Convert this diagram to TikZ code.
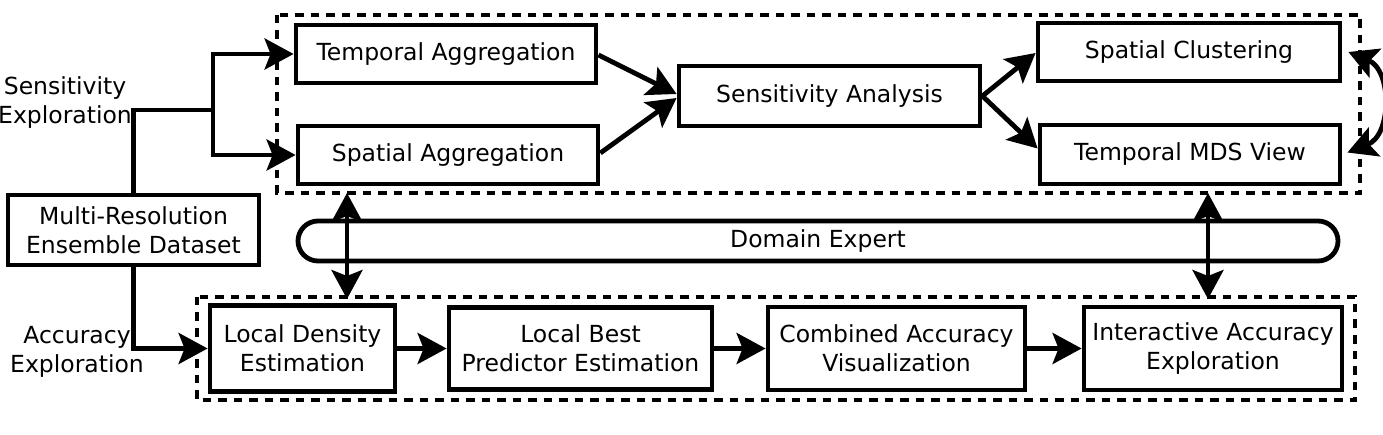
\documentclass[tikz,border=0pt]{standalone}
\usepackage{fontspec}
\setmainfont{DejaVu Sans}
\usetikzlibrary{arrows.meta,calc}
\begin{document}
\begin{tikzpicture}[x=1pt,y=-1pt,
  every node/.style={font=\fontsize{23.5}{29}\selectfont, align=center},
  blk/.style={draw, line width=4.8pt, inner sep=0pt},
  grp/.style={draw, line width=4.8pt, dash pattern=on 8.5pt off 7pt},
  arr/.style={line width=4.8pt, -{Stealth[length=29pt,width=31pt,inset=6pt]}},
  dbl/.style={line width=4.8pt, {Stealth[length=29pt,width=31pt,inset=6pt]}-{Stealth[length=29pt,width=31pt,inset=6pt]}},
  lbl/.style={inner sep=0pt}
]
\useasboundingbox (0,0) rectangle (1383,435);

% group frames
\draw[grp] (277,15) rectangle (1360,193);
\draw[grp] (197,297) rectangle (1355,400);

% top row
\node[blk, minimum width=300pt, minimum height=58pt] (ta) at (446,54) {Temporal Aggregation};
\node[blk, minimum width=300pt, minimum height=58pt] (spa) at (448,155) {Spatial Aggregation};
\node[blk, minimum width=301pt, minimum height=60pt] (sa) at (829.5,96) {Sensitivity Analysis};
\node[blk, minimum width=302pt, minimum height=58pt] (sc) at (1189,52) {Spatial Clustering};
\node[blk, minimum width=300pt, minimum height=59pt] (tm) at (1190,154.5) {Temporal MDS View};

% dataset
\node[blk, minimum width=251pt, minimum height=70pt] (mr) at (133.5,230) {Multi-Resolution\\Ensemble Dataset};

% domain expert
\node[draw, line width=4.8pt, rounded corners=20pt, minimum width=1040pt, minimum height=40pt, inner sep=0pt] (de) at (818,241) {Domain Expert};

% bottom row
\node[blk, minimum width=185pt, minimum height=86pt] (ld) at (302.5,348.5) {Local Density\\Estimation};
\node[blk, minimum width=263pt, minimum height=82pt] (lb) at (580.5,348.5) {Local Best\\Predictor Estimation};
\node[blk, minimum width=257pt, minimum height=83pt] (ca) at (896.5,348.5) {Combined Accuracy\\Visualization};
\node[blk, minimum width=258pt, minimum height=83pt] (ia) at (1213,348.5) {Interactive Accuracy\\Exploration};

% side labels
\node[lbl] (se) at (65,103) {Sensitivity\\Exploration};
\node[lbl] (ae) at (77,352) {Accuracy\\Exploration};

% connectors
\coordinate (j) at (213,110);
\draw[line width=4.8pt] (mr.north) |- (j);
\draw[arr] (j) |- (ta.west);
\draw[arr] (j) |- (spa.west);
\draw[arr] (mr.south) |- (ld.west);

\draw[arr] ($(ta.east)+(0,1)$) -- ($(sa.west)+(0,-2)$);
\draw[arr] ($(spa.east)+(0,-2)$) -- ($(sa.west)+(0,2)$);
\draw[arr] (sa.east) -- ($(sc.west)+(0,1)$);
\draw[arr] (sa.east) -- ($(tm.west)+(0,-6)$);

\draw[dbl] ($(sc.east)+(6,0)$) .. controls (1392,70) and (1392,135) .. ($(tm.east)+(5,-2)$);

\draw[arr] (ld.east) -- (lb.west);
\draw[arr] (lb.east) -- (ca.west);
\draw[arr] (ca.east) -- (ia.west);

\coordinate (u1) at (347,193);
\coordinate (d1) at (347,299);
\coordinate (u2) at (1208,193);
\coordinate (d2) at (1208,299);
\draw[dbl] (u1) -- (d1);
\draw[dbl] (u2) -- (d2);
\end{tikzpicture}
\end{document}
